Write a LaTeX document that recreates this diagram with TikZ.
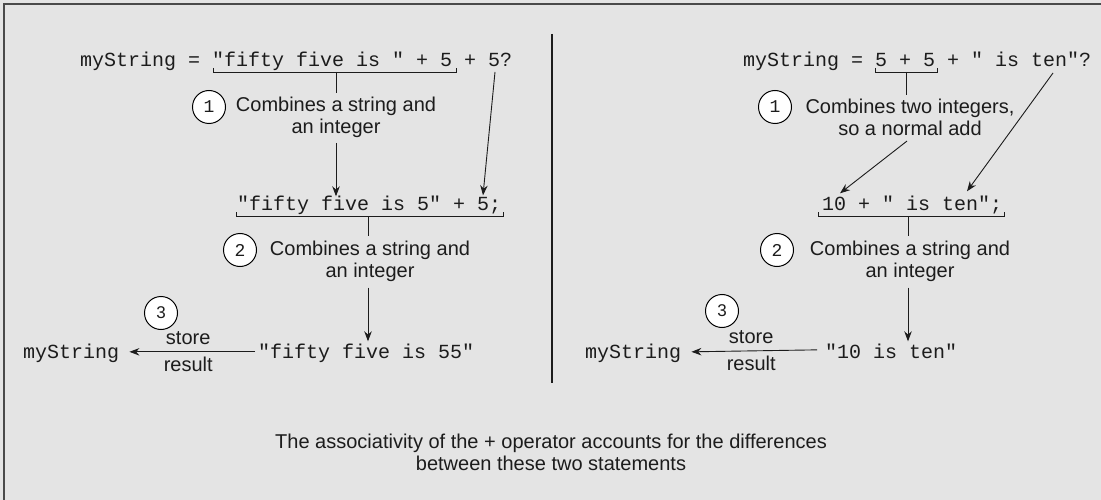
\documentclass[tikz,border=0pt]{standalone}
\usepackage{fontspec}
\setmainfont{Liberation Sans}
\setmonofont{Liberation Mono}
\usetikzlibrary{arrows.meta,calc}
\definecolor{bg}{HTML}{E4E4E4}
\definecolor{ink}{HTML}{1C1C1C}
\definecolor{frame}{HTML}{4A4A4A}
\begin{document}
\begin{tikzpicture}[x=1pt,y=-1pt,
  code/.style={font=\fontsize{20}{22}\selectfont\ttfamily, inner sep=0pt, anchor=base west, text=ink},
  note/.style={font=\fontsize{20}{22}\selectfont, align=center, inner sep=0pt, text=ink},
  lbl/.style={font=\fontsize{20}{22}\selectfont, inner sep=0pt, text=ink},
  num/.style={circle, draw=black, fill=white, line width=1pt, minimum size=33pt, inner sep=0pt, text=ink},
  arr/.style={-{Stealth[length=10pt,width=7.5pt]}, line width=0.9pt, draw=ink},
  brk/.style={line width=0.9pt, draw=ink}]
\useasboundingbox (0,0) rectangle (1101,500);
\fill[bg] (0,0) rectangle (1101,500);
\draw[frame, line width=1.8pt] (4,500) -- (4,4) -- (1101,4);
\draw[line width=1.5pt, draw=ink] (552,34) coordinate (dtop) -- (552,383) coordinate (dbot);

% ---------- left panel ----------
\node[code] (a1) at (80,67) {myString =};
\node[code] (a2) at (212,67) {"fifty five is " + 5};
\node[code] (a3) at (464,67) {+ 5?};
\draw[brk] ($(a2.base west)+(1,1)$) -- ++(0,4) coordinate (a2l) -| ($(a2.base east)+(4,1)$);
\coordinate (b1) at (336,72);
\node[num, font=\fontsize{18}{20}\selectfont\ttfamily] (c1) at (209,107) {1};
\node[note] (n1) at (336,117.5) {Combines a string and\\an integer};
\draw[brk] (b1) -- ($(b1 |- n1.north)+(0,-4)$);

\node[code] (d1) at (237,211) {"fifty five is 5" + 5;};
\draw[brk] ($(d1.base west)+(-1,1)$) -- ++(0,4) -| ($(d1.base east)+(2,1)$);
\coordinate (b2) at (368,216);
\node[num, font=\fontsize{18}{20}\selectfont\ttfamily] (c2) at (240,250) {2};
\node[note] (n2) at (370,261) {Combines a string and\\an integer};
\draw[brk] (b2) -- ($(b2 |- n2.north)+(0,-4)$);

\draw[arr] (336,143) coordinate (s1) -- (s1 |- d1.north);
\draw[arr] ($(a3.base west)+(31,5)$) -- ($(d1.north west)+(246,-1)$);

\node[code] (e1) at (258,358) {"fifty five is 55"};
\draw[arr] ($(n2.south)+(-2,6)$) -- ($(n2.south |- e1.north)+(-2,-2)$);
\node[code] (f1) at (23,358) {myString};
\node[num, font=\fontsize{17}{19}\selectfont] (c3) at (161,313) {3};
\draw[arr] ($(e1.west)+(-3,-1)$) -- ($(f1.east)+(10,-1)$)
  node[lbl, midway, above=7pt, xshift=-4pt] (st1) {store}
  node[lbl, midway, below=5pt, xshift=-4pt] (rs1) {result};

% ---------- right panel ----------
\node[code] (g1) at (743,67) {myString =};
\node[code] (g2) at (875,67) {5 + 5};
\node[code] (g3) at (947,67) {+ " is ten"?};
\draw[brk] ($(g2.base west)+(0,1)$) -- ++(0,4) -| ($(g2.base east)+(2,1)$);
\coordinate (b3) at (906,72);
\node[num, font=\fontsize{18}{20}\selectfont\ttfamily] (cr1) at (775,107) {1};
\node[note] (nr1) at (910,117.5) {Combines two integers,\\so a normal add};
\draw[brk] (b3) -- ($(b3 |- nr1.north)+(0,-4)$);

\node[code] (h1) at (822,211) {10 + " is ten";};
\draw[brk] ($(h1.base west)+(-4,1)$) -- ++(0,4) -| ($(h1.base east)+(2,1)$);
\coordinate (b4) at (908,216);
\node[num, font=\fontsize{18}{20}\selectfont\ttfamily] (cr2) at (777,250) {2};
\node[note] (nr2) at (910,261) {Combines a string and\\an integer};
\draw[brk] (b4) -- ($(b4 |- nr2.north)+(0,-4)$);

\draw[arr] ($(nr1.south)+(-3,5)$) -- ($(h1.north west)+(18,-3)$);
\draw[arr] ($(g3.base west)+(106,6)$) -- ($(h1.north west)+(145,-5)$);

\node[code] (k1) at (825,358) {"10 is ten"};
\draw[arr] ($(nr2.south)+(-2,6)$) -- ($(nr2.south |- k1.north)+(-2,-2)$);
\node[code] (m1) at (585,358) {myString};
\node[num, font=\fontsize{17}{19}\selectfont] (cr3) at (722,311) {3};
\draw[arr] ($(k1.west)+(-8,-1)$) -- ($(m1.east)+(10,-1)$)
  node[lbl, midway, above=7pt, xshift=-3pt] (st2) {store}
  node[lbl, midway, below=5pt, xshift=-3pt] (rs2) {result};

% ---------- caption ----------
\node[note] (cap) at (551,452) {The associativity of the + operator accounts for the differences\\between these two statements};
\end{tikzpicture}
\end{document}
